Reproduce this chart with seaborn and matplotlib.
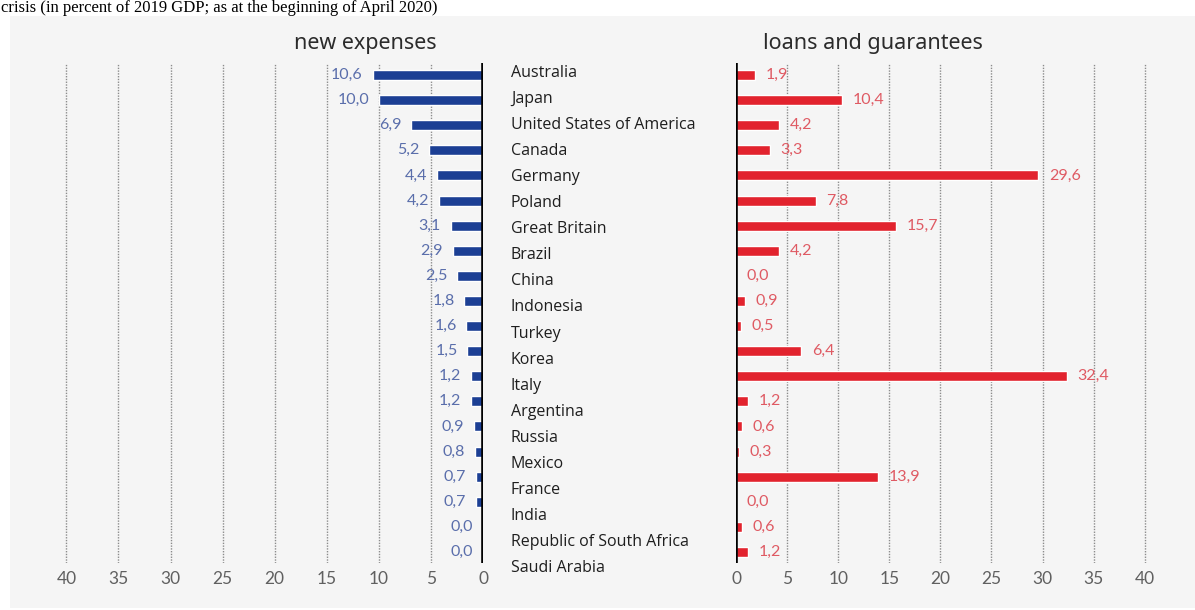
import matplotlib
matplotlib.use("Agg")
import matplotlib.pyplot as plt
from matplotlib.patches import Rectangle
import seaborn as sns
import pandas as pd

# Fiscal response to the crisis, percent of 2019 GDP
countries = [
    "Australia", "Japan", "United States of America", "Canada", "Germany",
    "Poland", "Great Britain", "Brazil", "China", "Indonesia", "Turkey",
    "Korea", "Italy", "Argentina", "Russia", "Mexico", "France", "India",
    "Republic of South Africa", "Saudi Arabia",
]
new_expenses = [10.6, 10.0, 6.9, 5.2, 4.4, 4.2, 3.1, 2.9, 2.5, 1.8, 1.6,
                1.5, 1.2, 1.2, 0.9, 0.8, 0.7, 0.7, 0.0, 0.0]
loans_guarantees = [1.9, 10.4, 4.2, 3.3, 29.6, 7.8, 15.7, 4.2, 0.0, 0.9, 0.5,
                    6.4, 32.4, 1.2, 0.6, 0.3, 13.9, 0.0, 0.6, 1.2]
axis_ticks = [0, 5, 10, 15, 20, 25, 30, 35, 40]

title_text = "crisis (in percent of 2019 GDP; as at the beginning of April 2020)"
left_title = "new expenses"
right_title = "loans and guarantees"

BLUE = "#1c3f94"
RED = "#e2232e"
BLUE_TXT = "#5a6eab"
RED_TXT = "#df5a63"
BG = "#f5f5f5"

sns.set_style("white")
plt.rcParams["font.family"] = ["Noto Sans", "DejaVu Sans"]

W, H = 1195, 610
fig = plt.figure(figsize=(W / 100, H / 100), dpi=100)
fig.patch.set_facecolor("white")


def box(x0, y0, x1, y1):
    return [x0 / W, 1 - y1 / H, (x1 - x0) / W, (y1 - y0) / H]


# light panel behind the chart
fig.patches.append(Rectangle((10 / W, 1 - 608 / H), (W - 10) / W, (608 - 16) / H,
                             transform=fig.transFigure, facecolor=BG,
                             edgecolor="none", zorder=-10))

fig.text(1 / W, 1 - 12 / H, title_text, family="Liberation Serif", fontsize=12,
         va="baseline", ha="left", color="black", zorder=5)

df = pd.DataFrame({"country": countries, "new": new_expenses,
                   "loans": loans_guarantees})
n = len(countries)

ax_l = fig.add_axes(box(56, 63, 483, 563))
ax_r = fig.add_axes(box(736, 63, 1155, 563))
ax_m = fig.add_axes(box(500, 60, 730, 581))

for ax, col, color in ((ax_l, "new", BLUE), (ax_r, "loans", RED)):
    ax.patch.set_visible(False)
    for t in axis_ticks[1:]:
        ax.axvline(t, color="#8c8c8c", lw=1.0, ls=(0, (1, 1)), zorder=0)
    sns.barplot(data=df, x=col, y="country", orient="h", color=color,
                width=0.4, saturation=1, ax=ax, zorder=2)
    ax.axvline(0, color="black", lw=2.6, zorder=3)
    ax.set_ylim(n - 1 + 0.44, -0.48)
    ax.set_yticks([])
    ax.set_ylabel("")
    ax.set_xlabel("")
    ax.set_xticks(axis_ticks)
    ax.tick_params(axis="x", length=0, pad=6, labelsize=12.5, labelcolor="#606060")
    for lab in ax.get_xticklabels():
        lab.set_family("Lato")
    for s in ax.spines.values():
        s.set_visible(False)

ax_l.set_xlim(41, 0)
ax_r.set_xlim(0, 41)

for i, v in enumerate(new_expenses):
    ax_l.annotate(f"{v:.1f}".replace(".", ","), (v, i), xytext=(-7, 0),
                  textcoords="offset points", ha="right", va="center",
                  fontsize=11.5, color=BLUE_TXT, family="Lato")
for i, v in enumerate(loans_guarantees):
    ax_r.annotate(f"{v:.1f}".replace(".", ","), (v, i), xytext=(7.5, 0),
                  textcoords="offset points", ha="left", va="center",
                  fontsize=11.5, color=RED_TXT, family="Lato")

# country names in the middle column
ax_m.set_axis_off()
ax_m.set_xlim(0, 1)
ax_m.set_ylim(n - 0.5, -0.5)
for i, c in enumerate(countries):
    ax_m.text(11 / 230, i, c, ha="left", va="center", fontsize=11.5,
              color="#1e1e1e", family="Open Sans")

fig.text(365 / W, 1 - 44 / H, left_title, ha="center", va="center",
         fontsize=15.5, color="#2b2b2b")
fig.text(873 / W, 1 - 44 / H, right_title, ha="center", va="center",
         fontsize=15.5, color="#2b2b2b")

fig.savefig("out.png", dpi=100, facecolor=fig.get_facecolor())
